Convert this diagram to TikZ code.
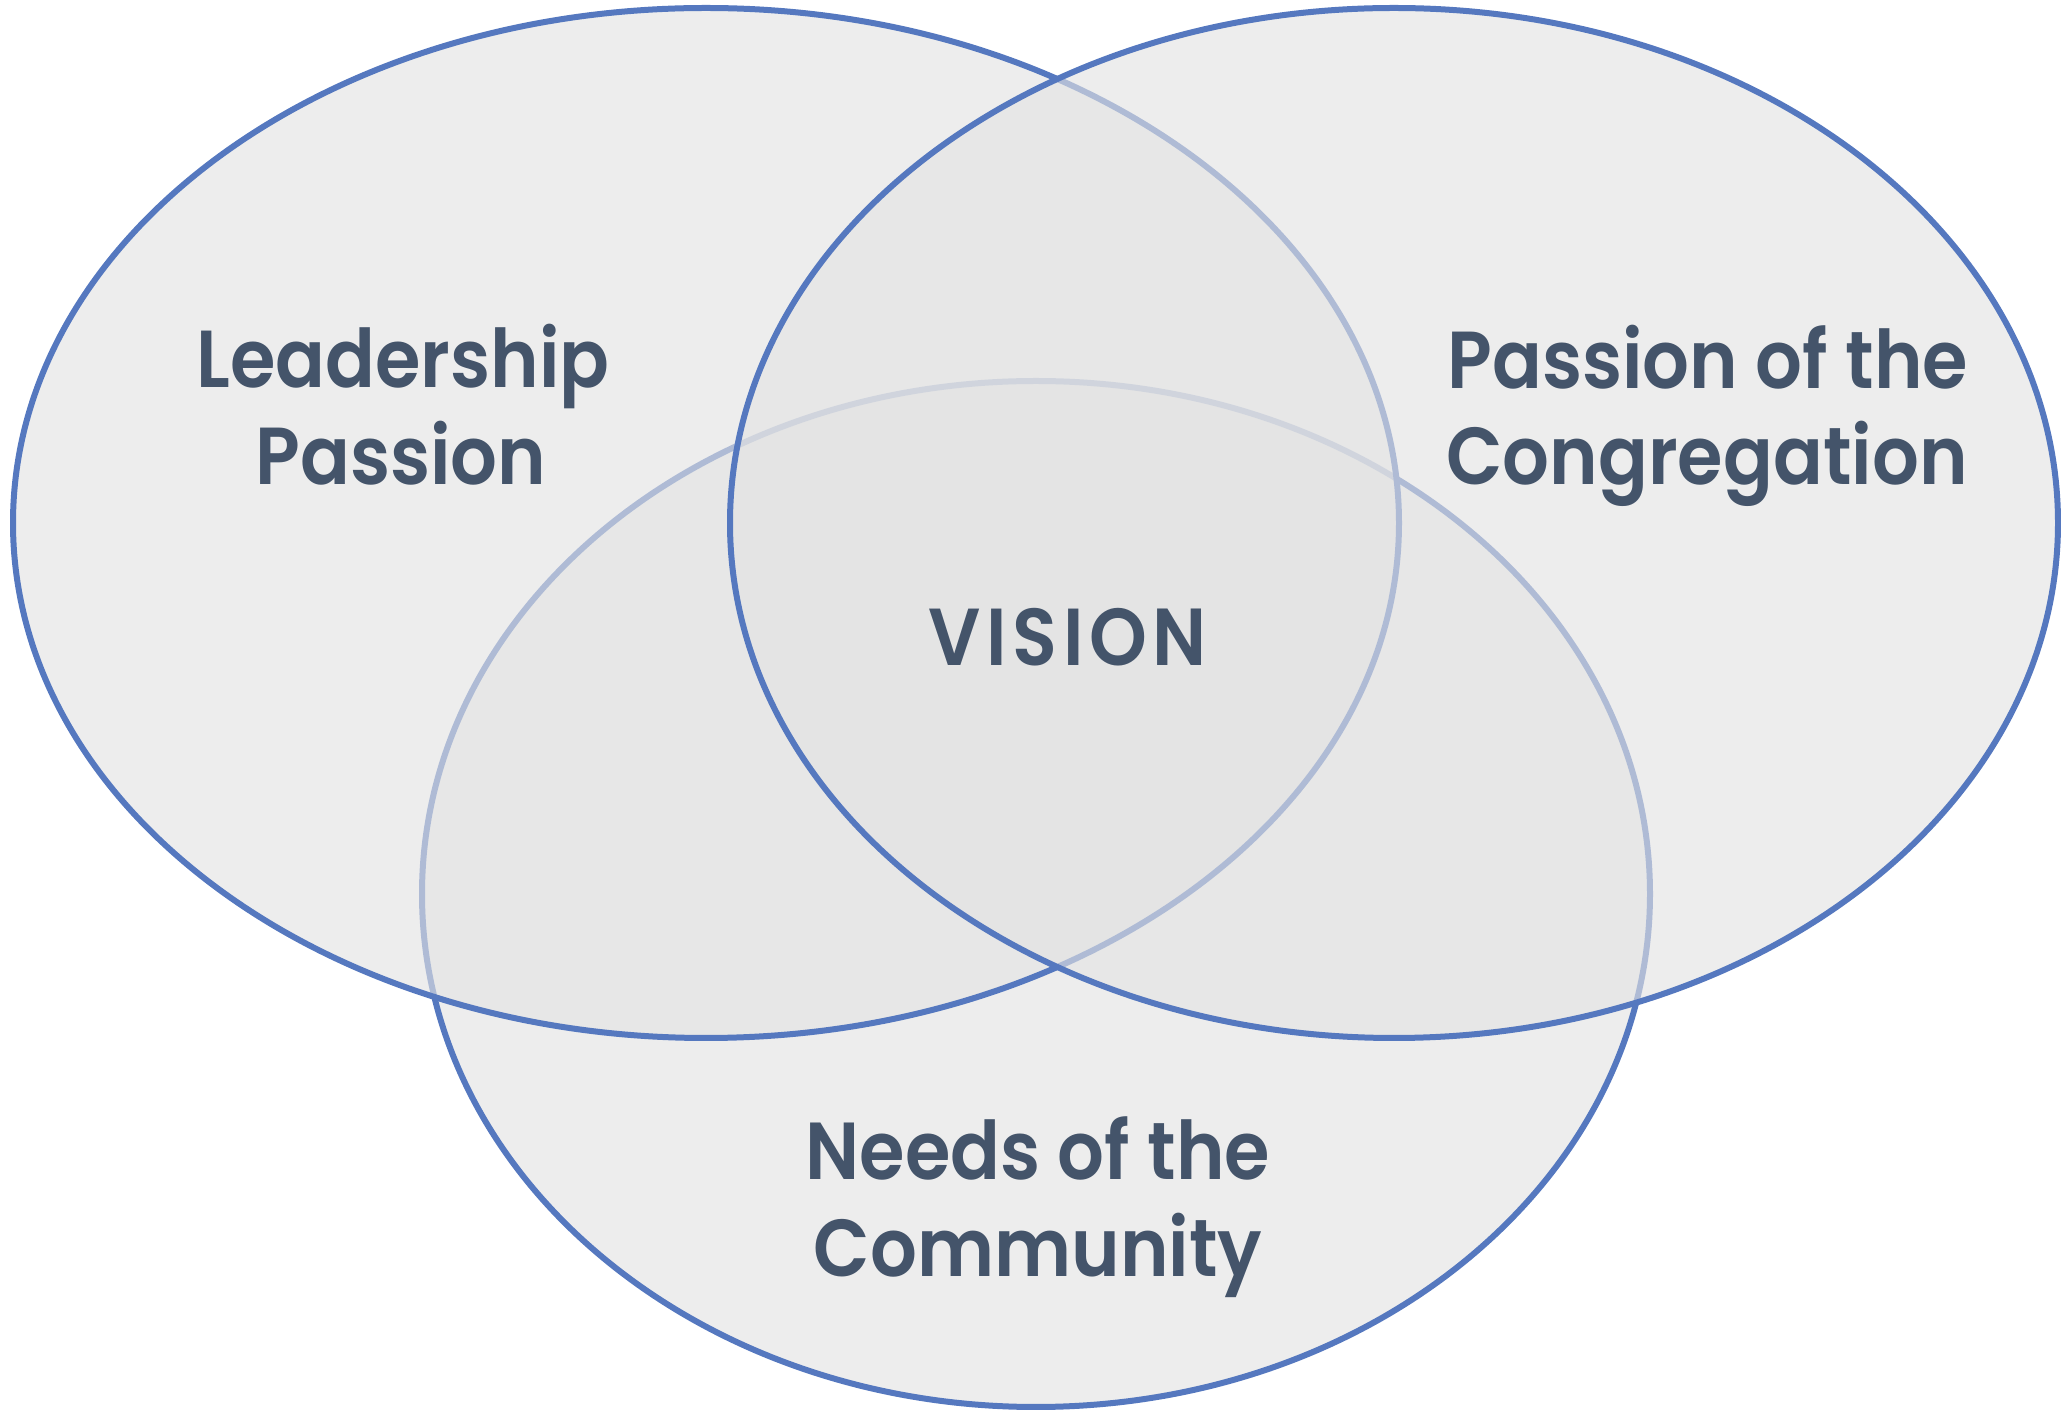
\documentclass[tikz,border=0pt]{standalone}
\usepackage{fontspec}
\newfontfamily\lblfont{Poppins}[UprightFont=* SemiBold, FakeStretch=0.91]
\newfontfamily\capsfont{Poppins}[UprightFont=* SemiBold, FakeStretch=0.91, LetterSpace=7]
\definecolor{ringblue}{RGB}{85,120,191}
\definecolor{ringfill}{RGB}{227,227,227}
\definecolor{labeltext}{RGB}{68,84,106}
\begin{document}
\begin{tikzpicture}[x=0.1mm,y=-0.1mm,
  ring/.style={draw=ringblue, line width=0.6mm, fill=ringfill, fill opacity=0.635},
  lbl/.style={text=labeltext, font=\lblfont\fontsize{23pt}{27pt}\selectfont,
    anchor=base, inner sep=0pt}]
\useasboundingbox (0,0) rectangle (2061,1411);
% three overlapping circles, bottom one first so the others tint its rim
\path[ring] (1036,894) ellipse [x radius=614, y radius=513];
\path[ring] (706,523) ellipse [x radius=693, y radius=515];
\path[ring] (1394,523) ellipse [x radius=664, y radius=515];
% labels
\node[lbl] (lead1) at (403,388) {Leadership};
\node[lbl] (lead2) at (401,485) {Passion};
\node[lbl, font=\capsfont\fontsize{23pt}{27pt}\selectfont] (vision) at (1068,666) {VISION};
\node[lbl] (cong1) at (1708,389) {Passion of the};
\node[lbl] (cong2) at (1707,485) {Congregation};
\node[lbl] (need1) at (1038,1180) {Needs of the};
\node[lbl] (need2) at (1038,1277) {Community};
\end{tikzpicture}
\end{document}
